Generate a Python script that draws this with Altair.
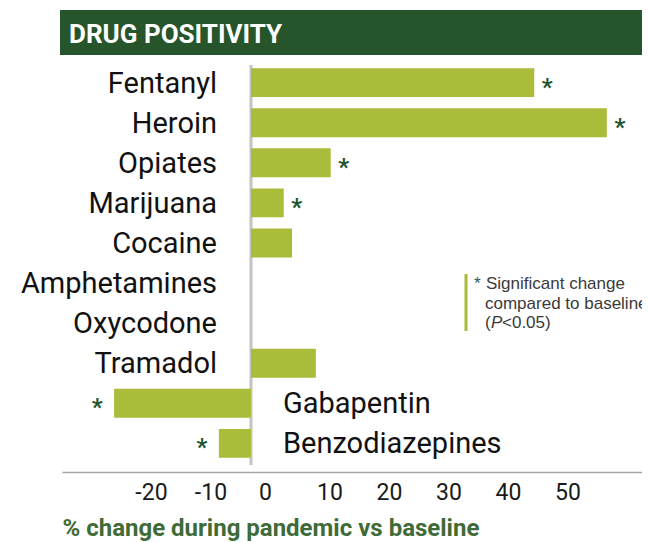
import altair as alt
import pandas as pd

# ---- data ----
drugs = ["Fentanyl", "Heroin", "Opiates", "Marijuana", "Cocaine",
         "Amphetamines", "Oxycodone", "Tramadol", "Gabapentin", "Benzodiazepines"]
changes = [47.6, 59.8, 13.4, 5.5, 6.9, 0.0, 0.0, 10.9, -23.0, -5.4]
significant = [True, True, True, True, False, False, False, False, True, True]
tick_values = [-20, -10, 0, 10, 20, 30, 40, 50]

chart_title = "DRUG POSITIVITY"
x_title = "% change during pandemic vs baseline"
legend_lines = ["Significant change", "compared to baseline"]

df = pd.DataFrame({"drug": drugs, "change": changes, "sig": significant})

BAR = "#abbb3a"
DARK = "#27552b"
STAR = "#1e5631"
FONT = "Roboto"

PLOT_W = 580
xscale = alt.Scale(domain=[-31.76, 65.71], nice=False, zero=False)
yscale = alt.Scale(domain=drugs, paddingInner=0.28, paddingOuter=0.354)
Y = alt.Y("drug:N", sort=drugs, scale=yscale, axis=None)

base = alt.Chart(df)
one = alt.Data(values=[{}])

title_bar = alt.Chart(one).mark_rect(color=DARK).encode(
    x=alt.value(-2), x2=alt.value(PLOT_W), y=alt.value(-44), y2=alt.value(1)
)
title_text = alt.Chart(one).mark_text(
    text=chart_title, font=FONT, fontSize=26, fontWeight="bold", color="white",
    align="left", baseline="alphabetic"
).encode(x=alt.value(7), y=alt.value(-11))

zero_rule = alt.Chart(one).mark_rule(color="#c4c4c4", strokeWidth=3).encode(
    x=alt.datum(0, scale=xscale), y=alt.value(11), y2=alt.value(411)
)

bars = base.mark_bar(color=BAR).encode(
    x=alt.X("change:Q", scale=xscale,
            axis=alt.Axis(
                values=tick_values, ticks=False, grid=False,
                domainColor="#a6a6a6", domainWidth=1.5,
                labelExpr="'' + datum.value",
                labelFont=FONT, labelFontSize=23, labelColor="#1a1a1a",
                labelPadding=9, labelFlush=False, labelOverlap=False,
                labelOffset={"condition": {"test": "datum.value == 0", "value": 14}, "value": 19},
                title=x_title, titleFont=FONT, titleFontSize=24, titleFontWeight="bold",
                titleColor="#3e6b37", titleAnchor="start", titleAlign="left",
                titleX=0, titleY=63, titleBaseline="alphabetic")),
    x2=alt.datum(0),
    y=Y,
)

labels_pos = base.transform_filter("datum.change >= 0").mark_text(
    font=FONT, fontSize=29, color="#111111", align="right", baseline="alphabetic",
    dx=-34, dy=10
).encode(x=alt.datum(0, scale=xscale), y=Y, text="drug:N")

labels_neg = base.transform_filter("datum.change < 0").mark_text(
    font=FONT, fontSize=29, color="#111111", align="left", baseline="alphabetic",
    dx=32, dy=10
).encode(x=alt.datum(0, scale=xscale), y=Y, text="drug:N")

stars_pos = base.transform_filter("datum.sig && datum.change >= 0").mark_text(
    text="*", font=FONT, fontSize=24, fontWeight="bold", color=STAR,
    align="center", baseline="alphabetic", dx=13, dy=12
).encode(x=alt.X("change:Q", scale=xscale), y=Y)

stars_neg = base.transform_filter("datum.sig && datum.change < 0").mark_text(
    text="*", font=FONT, fontSize=24, fontWeight="bold", color=STAR,
    align="center", baseline="alphabetic", dx=-17, dy=12
).encode(x=alt.X("change:Q", scale=xscale), y=Y)

LFONT = "Liberation Sans"
LCOL = "#3a3a3a"
LSIZE = 17
legend_bar = alt.Chart(one).mark_rule(color=BAR, strokeWidth=3).encode(
    x=alt.value(404), y=alt.value(220), y2=alt.value(277)
)
legend_star = alt.Chart(one).mark_text(
    text="*", font=LFONT, fontSize=LSIZE, color="#1d5a6b", align="left", baseline="alphabetic"
).encode(x=alt.value(412), y=alt.value(235))
legend_l1 = alt.Chart(one).mark_text(
    text=legend_lines[0], font=LFONT, fontSize=LSIZE, color=LCOL, align="left", baseline="alphabetic"
).encode(x=alt.value(424), y=alt.value(235))
legend_l2 = alt.Chart(one).mark_text(
    text=legend_lines[1], font=LFONT, fontSize=LSIZE, color=LCOL, align="left", baseline="alphabetic"
).encode(x=alt.value(423), y=alt.value(255))
legend_l3a = alt.Chart(one).mark_text(
    text="(", font=LFONT, fontSize=LSIZE, color=LCOL, align="left", baseline="alphabetic"
).encode(x=alt.value(423), y=alt.value(274))
legend_l3b = alt.Chart(one).mark_text(
    text="P", font=LFONT, fontSize=LSIZE, fontStyle="italic", color=LCOL, align="left", baseline="alphabetic"
).encode(x=alt.value(429), y=alt.value(274))
legend_l3c = alt.Chart(one).mark_text(
    text="<0.05)", font=LFONT, fontSize=LSIZE, color=LCOL, align="left", baseline="alphabetic"
).encode(x=alt.value(440), y=alt.value(274))

chart = alt.layer(
    title_bar, title_text, zero_rule, bars, labels_pos, labels_neg, stars_pos, stars_neg,
    legend_bar, legend_star, legend_l1, legend_l2, legend_l3a, legend_l3b, legend_l3c
).properties(
    width=PLOT_W, height=418,
    padding={"left": 54, "top": 46, "right": 0, "bottom": 69},
    autosize=alt.AutoSizeParams(type="none"),
    background="white",
).configure_view(stroke=None)

chart.save("out.html", embed_options={"renderer": "svg", "actions": False})
